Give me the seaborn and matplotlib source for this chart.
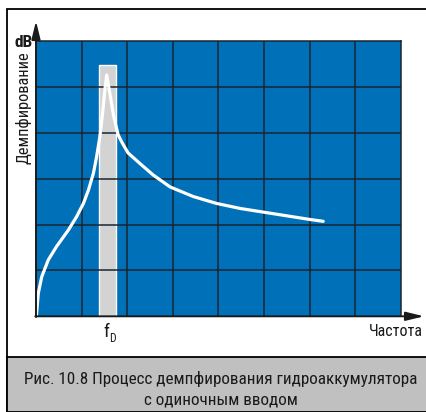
import numpy as np
import pandas as pd
import matplotlib
matplotlib.use("Agg")
import matplotlib.pyplot as plt
import matplotlib.patches as patches
import seaborn as sns

# Кривая демпфирования (в клетках сетки: x 0..8, y 0..6)
freq = [0.01, 0.05, 0.125, 0.27, 0.45, 0.71, 0.89, 1.04, 1.15, 1.26, 1.33, 1.40,
        1.46, 1.51, 1.55, 1.62, 1.70, 1.80, 1.88, 2.02, 2.28, 2.57, 2.94, 3.45,
        3.96, 4.48, 4.99, 5.50, 6.01, 6.30]
damping = [0.02, 0.50, 0.86, 1.23, 1.52, 1.88, 2.17, 2.46, 2.75, 3.12, 3.48, 3.91,
           4.42, 4.93, 5.26, 4.86, 4.38, 3.96, 3.80, 3.56, 3.33, 3.08, 2.82, 2.61,
           2.46, 2.35, 2.27, 2.19, 2.11, 2.07]
# полоса резонанса f_D
band_x = [1.38, 1.76]
band_top = 5.48
n_cols, n_rows = 8, 6

xlabel = "Частота"
ylabel = "Демпфирование"
unit = "dB"
caption = ["Рис. 10.8 Процесс демпфирования гидроаккумулятора",
           "с одиночным вводом"]

sns.set_theme(style="white")
plt.rcParams['font.family'] = ['Roboto Condensed', 'Roboto', 'DejaVu Sans']

W, H = 426, 412
fig = plt.figure(figsize=(W / 100, H / 100), dpi=100)
fig.patch.set_facecolor("white")


def fx(px):
    return px / W


def fy(py):
    return 1 - py / H


left, right, top, bottom = 36, 400.7, 41, 316.3
ax = fig.add_axes([fx(left), fy(bottom), fx(right - left), (bottom - top) / H])
ax.set_facecolor("#0070b8")
ax.set_xlim(0, n_cols)
ax.set_ylim(0, n_rows)

ax.bar((band_x[0] + band_x[1]) / 2, band_top, width=band_x[1] - band_x[0],
       color="#d3d3d3", zorder=1)
for v in range(1, n_cols):
    ax.axvline(v, color="#1b2530", lw=1.1, zorder=2)
for h in range(1, n_rows):
    ax.axhline(h, color="#1b2530", lw=1.1, zorder=2)

df = pd.DataFrame({"freq": freq, "damping": damping})
sns.lineplot(data=df, x="freq", y="damping", color="white", lw=2.3,
             estimator=None, ax=ax, zorder=3)
ax.set_xticks([])
ax.set_yticks([])
ax.set_xlabel("")
ax.set_ylabel("")
for s in ["left", "bottom"]:
    ax.spines[s].set_visible(False)
for s in ["top", "right"]:
    ax.spines[s].set_color("#1b2530")
    ax.spines[s].set_linewidth(1.1)

# оси со стрелками
arrow = dict(arrowstyle="-|>,head_length=0.9,head_width=0.22", color="#1a1a1a",
             lw=1.4, shrinkA=0, shrinkB=0)
ax.annotate("", xy=(fx(36), fy(21)), xytext=(fx(36), fy(317)),
            xycoords="figure fraction", textcoords="figure fraction",
            arrowprops=arrow, annotation_clip=False)
ax.annotate("", xy=(fx(424), fy(316.3)), xytext=(fx(35.3), fy(316.3)),
            xycoords="figure fraction", textcoords="figure fraction",
            arrowprops=arrow, annotation_clip=False)

# рамка и подпись
fig.add_artist(patches.Rectangle((fx(7), 0), fx(430), fy(9), fill=False,
                                 edgecolor="black", lw=1.3,
                                 transform=fig.transFigure))
fig.add_artist(patches.Rectangle((fx(7), 0), fx(430), (H - 357) / H,
                                 facecolor="#c0c0c0", edgecolor="black", lw=1.3,
                                 transform=fig.transFigure))

txt = dict(color="#1a1a1a")
fig.text(fx(23.5), fy(42.5), unit, ha="center", va="center", fontsize=12.5,
         fontweight="bold", **txt)
fig.text(fx(24), fy(108), ylabel, ha="center", va="center", rotation=90,
         fontsize=11.8, **txt)
fig.text(fx(423), fy(332), xlabel, ha="right", va="center", fontsize=11.5, **txt)
fig.text(fx(106), fy(332), "f", ha="center", va="center", fontsize=13.5, **txt)
fig.text(fx(112.5), fy(339), "D", ha="center", va="center", fontsize=8.5, **txt)
fig.text(fx(221), fy(379), caption[0], ha="center", va="center",
         fontsize=12.3, **txt)
fig.text(fx(221), fy(400), caption[1], ha="center", va="center",
         fontsize=12.3, **txt)

fig.savefig("out.png", dpi=100)
